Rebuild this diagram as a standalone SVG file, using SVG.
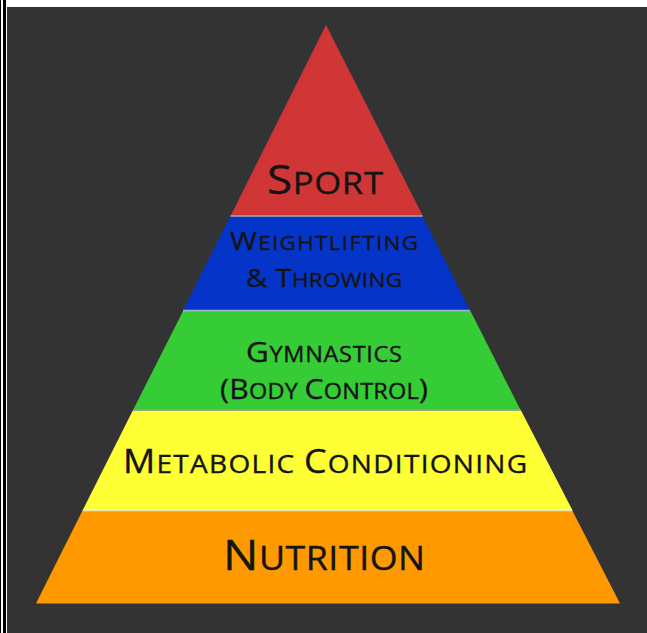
<svg xmlns="http://www.w3.org/2000/svg" width="647" height="633" viewBox="0 0 647 633">
  <style>
    .lbl { font-family: "Open Sans", "Liberation Sans", sans-serif; fill: #141414; stroke: #141414; stroke-width: 0.35; text-anchor: middle; }
    .sep { fill: none; stroke-width: 1.5; }
  </style>
  <!-- frame -->
  <rect x="0" y="0" width="647" height="633" fill="#ffffff"/>
  <rect x="0" y="0" width="1" height="633" fill="#000000"/>
  <rect x="3" y="0" width="3" height="633" fill="#000000"/>
  <rect x="7" y="7" width="640" height="626" fill="#333333"/>

  <!-- pyramid tiers, top to bottom; labels are widened slightly along x -->
  <g id="sport">
    <polygon points="326,25 422.6,215.5 230.8,215.5" fill="#d03636"/>
    <text class="lbl" transform="translate(325 0) scale(1.12 1)" x="0" y="194.5" textLength="103.6" lengthAdjust="spacing"><tspan font-size="41">S</tspan><tspan font-size="31">PORT</tspan></text>
  </g>
  <g id="weightlifting">
    <polygon points="230.3,216.5 422.6,216.5 469.9,310 183.1,310" fill="#0534c8"/>
    <text class="lbl" transform="translate(324 0) scale(1.12 1)" x="0" y="250" textLength="167.9" lengthAdjust="spacing"><tspan font-size="26">W</tspan><tspan font-size="20">EIGHTLIFTING</tspan></text>
    <text class="lbl" transform="translate(324 0) scale(1.12 1)" x="0" y="287" textLength="139.3" lengthAdjust="spacing"><tspan font-size="26">&amp; T</tspan><tspan font-size="20">HROWING</tspan></text>
  </g>
  <g id="gymnastics">
    <polygon points="183.1,311 470.5,311 520.3,409.5 133.3,409.5" fill="#35cc35"/>
    <text class="lbl" transform="translate(324 0) scale(1.12 1)" x="0" y="362" textLength="139.3" lengthAdjust="spacing"><tspan font-size="28">G</tspan><tspan font-size="21">YMNASTICS</tspan></text>
    <text class="lbl" transform="translate(324 0) scale(1.12 1)" x="0" y="399" textLength="185.7" lengthAdjust="spacing"><tspan font-size="27">(B</tspan><tspan font-size="21">ODY </tspan><tspan font-size="27">C</tspan><tspan font-size="21">ONTROL</tspan><tspan font-size="27">)</tspan></text>
  </g>
  <g id="metabolic-conditioning">
    <polygon points="132.8,410.5 521,410.5 572.3,510 82.8,510" fill="#ffff35"/>
    <text class="lbl" transform="translate(325 0) scale(1.12 1)" x="0" y="473.5" textLength="360.7" lengthAdjust="spacing"><tspan font-size="32">M</tspan><tspan font-size="25">ETABOLIC </tspan><tspan font-size="32">C</tspan><tspan font-size="25">ONDITIONING</tspan></text>
  </g>
  <g id="nutrition">
    <polygon points="82.3,511 572.5,511 620,603.5 36,603.5" fill="#ff9900"/>
    <text class="lbl" transform="translate(324 0) scale(1.12 1)" x="0" y="570" textLength="180.4" lengthAdjust="spacing"><tspan font-size="42">N</tspan><tspan font-size="32">UTRITION</tspan></text>
  </g>

  <!-- thin seams between tiers -->
  <g id="seams">
    <line class="sep" x1="230.5" y1="216" x2="422.6" y2="216" stroke="#e8d8d8" stroke-opacity="0.7"/>
    <line class="sep" x1="183" y1="310.5" x2="470" y2="310.5" stroke="#b8d8f0" stroke-opacity="0.8"/>
    <line class="sep" x1="133" y1="410" x2="520.6" y2="410" stroke="#b0b0a8" stroke-opacity="0.9"/>
    <line class="sep" x1="82.5" y1="510.5" x2="572.4" y2="510.5" stroke="#fff8c0" stroke-opacity="0.9"/>
  </g>
</svg>
